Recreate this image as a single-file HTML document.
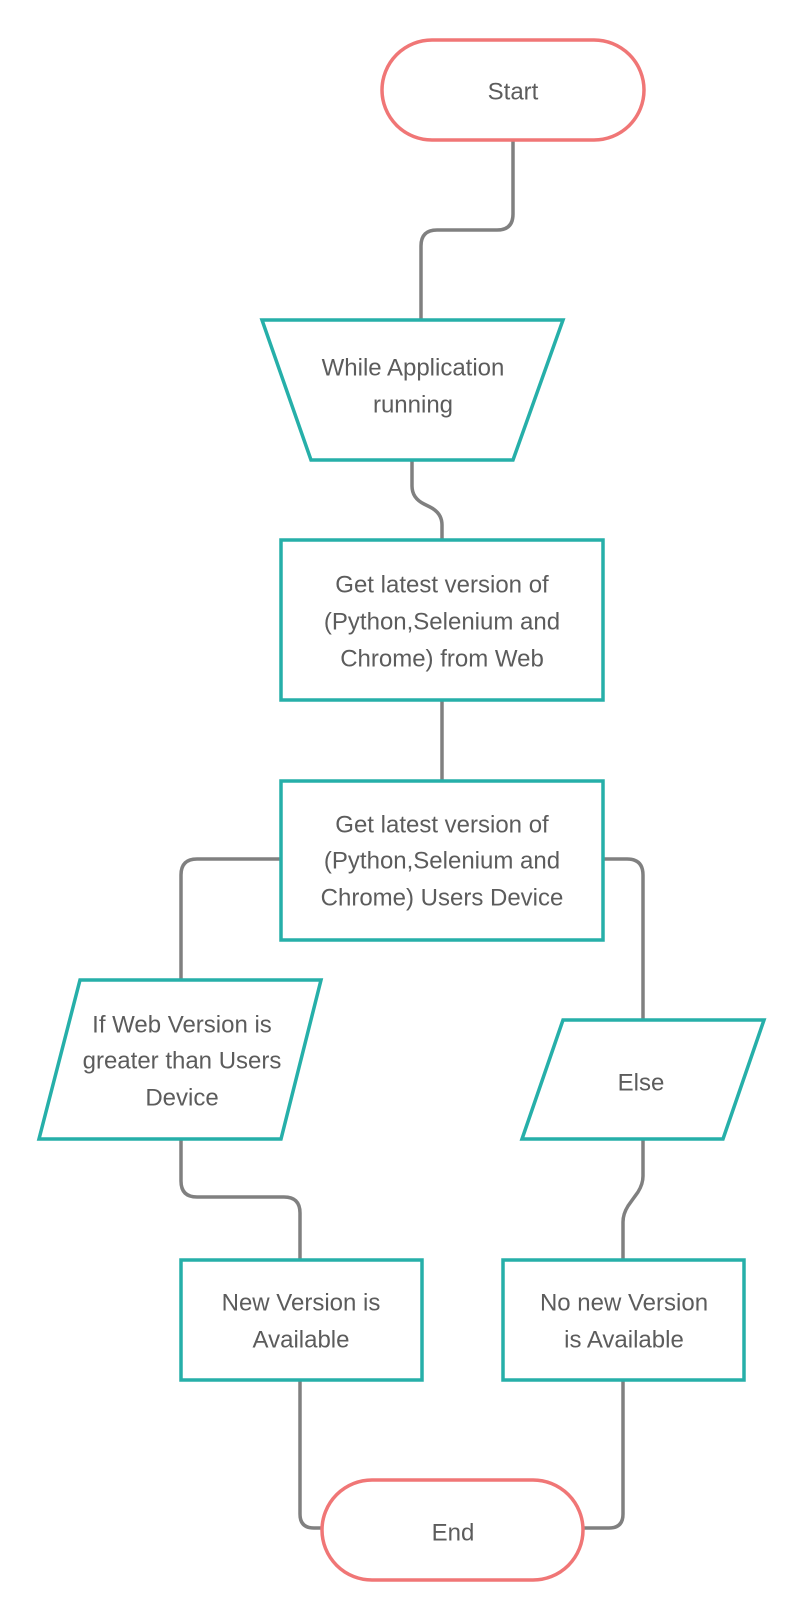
<!DOCTYPE html>
<html><head><meta charset="utf-8"><style>
html,body{margin:0;padding:0;background:#fff;}
svg{display:block;}
text{font-family:"Liberation Sans",sans-serif;font-size:24px;fill:#5c5c5c;text-anchor:middle;dominant-baseline:central;}
</style></head><body>
<svg width="800" height="1620" viewBox="0 0 800 1620" xmlns="http://www.w3.org/2000/svg">
<g fill="none" stroke="#808080" stroke-width="3.5">
<path d="M513 140 V214 Q513 230 497 230 H437 Q421 230 421 246 V320"/>
<path d="M412 460 V486 Q412 498 424 504 L430 507 Q442 513 442 525 V540"/>
<path d="M442 700 V781"/>
<path d="M281 859 H197 Q181 859 181 875 V980"/>
<path d="M603 859 H627 Q643 859 643 875 V1020"/>
<path d="M181 1139 V1181 Q181 1197 197 1197 H284 Q300 1197 300 1213 V1260"/>
<path d="M643 1139 V1176 Q643 1184 638 1192 L628 1206 Q623 1214 623 1222 V1260"/>
<path d="M300 1380 V1514 Q300 1528 314 1528 H322"/>
<path d="M623 1380 V1514 Q623 1528 609 1528 H583"/>
</g>
<g fill="#fff" stroke="#f07676" stroke-width="3.5">
<rect x="382" y="40" width="262" height="100" rx="50"/>
<rect x="322" y="1480" width="261" height="100" rx="50"/>
</g>
<g fill="#fff" stroke="#26afa9" stroke-width="3.5">
<polygon points="262,320 563,320 513,460 311,460"/>
<rect x="281" y="540" width="322" height="160"/>
<rect x="281" y="781" width="322" height="159"/>
<polygon points="80,980 321,980 281,1139 39,1139"/>
<polygon points="563,1020 764,1020 723,1139 522,1139"/>
<rect x="181" y="1260" width="241" height="120"/>
<rect x="503" y="1260" width="241" height="120"/>
</g>
<text x="513" y="92">Start</text>
<text x="413" y="368">While Application</text>
<text x="413" y="405">running</text>
<text x="442" y="585">Get latest version of</text>
<text x="442" y="622">(Python,Selenium and</text>
<text x="442" y="659">Chrome) from Web</text>
<text x="442" y="825">Get latest version of</text>
<text x="442" y="861">(Python,Selenium and</text>
<text x="442" y="898">Chrome) Users Device</text>
<text x="182" y="1025">If Web Version is</text>
<text x="182" y="1061">greater than Users</text>
<text x="182" y="1098">Device</text>
<text x="641" y="1083">Else</text>
<text x="301" y="1303">New Version is</text>
<text x="301" y="1340">Available</text>
<text x="624" y="1303">No new Version</text>
<text x="624" y="1340">is Available</text>
<text x="453" y="1533">End</text>
</svg>
</body></html>
